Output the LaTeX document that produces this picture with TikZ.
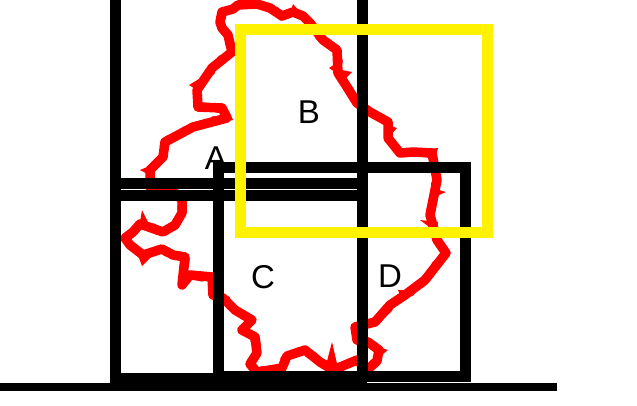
\documentclass[tikz,border=0pt]{standalone}
\usepackage{fontspec}
\setmainfont{Liberation Sans}
\usetikzlibrary{decorations.pathmorphing}
\tikzset{
  redline/.style={draw=red,line width=9.5pt,line join=round},
  redjag/.style={draw=red,line width=5pt,line join=round,decorate,decoration={random steps,segment length=4pt,amplitude=3pt}},
  spike/.style={fill=red,draw=none},
  blackbar/.style={draw=black,line width=11pt,line join=miter},
  yellowbox/.style={draw=yellow,line width=11pt},
  letter/.style={font=\fontsize{33}{33}\selectfont,text=black,inner sep=0pt}
}
\begin{document}
\begin{tikzpicture}[x=1pt,y=-1pt]
\useasboundingbox (0,0) rectangle (637,405);
\def\outline{(220,22) -- (222,12) -- (233,9) -- (238,5) -- (257,4) -- (270,8) -- (282,16) -- (293,12) -- (303,16) -- (310,23) -- (323,40) -- (337,50) -- (338,73) -- (347,87) -- (357,103) -- (370,112) -- (388,122) -- (388,138) -- (400,153) -- (413,152) -- (432,153) -- (437,180) -- (430,215) -- (437,240) -- (446,253) -- (425,280) -- (405,295) -- (390,305) -- (375,322) -- (355,327) -- (357,340) -- (368,342) -- (379,350) -- (377,361) -- (367,370) -- (357,360) -- (333,370) -- (320,362) -- (305,350) -- (287,356) -- (282,368) -- (257,372) -- (250,364) -- (257,353) -- (255,337) -- (242,330) -- (252,320) -- (235,310) -- (223,298) -- (213,295) -- (212,277) -- (190,275) -- (182,285) -- (185,257) -- (173,255) -- (162,249) -- (143,255) -- (130,245) -- (125,238) -- (133,232) -- (140,224) -- (163,232) -- (175,225) -- (182,213) -- (182,200) -- (170,188) -- (150,187) -- (150,170) -- (163,157) -- (165,142) -- (193,127) -- (227,118) -- (222,108) -- (198,107) -- (197,90) -- (212,68) -- (232,52) -- (228,35) -- (222,28) -- cycle}
% red outline, under everything else
\path[redline] \outline;
\path[redjag] \outline;
\fill[spike] (290,14) -- (293,4) -- (300,12) -- cycle;
\fill[spike] (189,85) -- (199,79) -- (200,92) -- cycle;
\fill[spike] (226,106) -- (233,120) -- (220,122) -- cycle;
\fill[spike] (140,170) -- (152,165) -- (155,178) -- cycle;
\fill[spike] (420,150) -- (438,148) -- (435,160) -- cycle;
\fill[spike] (432,188) -- (446,192) -- (432,198) -- cycle;
\fill[spike] (420,220) -- (438,222) -- (436,232) -- cycle;
\fill[spike] (398,290) -- (402,300) -- (412,290) -- cycle;
\fill[spike] (372,345) -- (388,350) -- (378,358) -- cycle;
\fill[spike] (326,365) -- (332,342) -- (338,368) -- cycle;
\fill[spike] (140,222) -- (142,210) -- (150,226) -- cycle;
\fill[spike] (138,255) -- (142,266) -- (152,256) -- cycle;
\fill[spike] (329,68) -- (338,62) -- (338,74) -- cycle;
\fill[spike] (352,72) -- (342,70) -- (344,80) -- cycle;
\fill[spike] (397,128) -- (388,125) -- (390,136) -- cycle;
% letters
\node[letter] (labelA) at (216,158) {A};
\node[letter] (labelB) at (309,112) {B};
\node[letter] (labelC) at (263,277) {C};
\node[letter] (labelD) at (390,276) {D};
% black frames
\draw[blackbar,line width=8pt] (0,386.5) -- (557,386.5);
\draw[blackbar] (115.5,0) -- (115.5,383);
\draw[blackbar] (362,0) -- (362,379);
\draw[blackbar] (110,183) -- (362,183);
\draw[blackbar] (110,195) -- (367,195);
\draw[blackbar,line width=12pt] (110,379) -- (367,379);
\draw[blackbar] (218,378) -- (218,167) -- (465.5,167) -- (465.5,376.5) -- (218,376.5);
% yellow frame
\draw[yellowbox] (240,29) rectangle (487.5,232.5);
\end{tikzpicture}
\end{document}
